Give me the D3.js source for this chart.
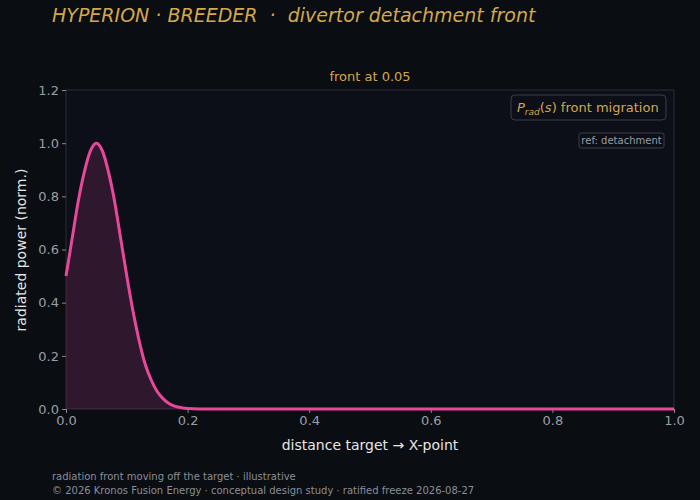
<!DOCTYPE html><html><head><meta charset="utf-8">
<script src="https://cdn.jsdelivr.net/npm/d3@7"></script>
<style>body{margin:0;background:#0a0d12;font-family:"DejaVu Sans",sans-serif}text{white-space:pre}</style></head><body>
<svg id="c" width="700" height="500"></svg>
<script>
const xs=[0,.01,.02,.03,.04,.05,.06,.07,.08,.09,.10,.11,.12,.13,.14,.15,.16,.17,.18,.19,.20,.22,.25,.5,1.0];
const ys=[.5,.64,.78,.89,.97,1.0,.97,.89,.78,.64,.50,.37,.26,.17,.11,.066,.038,.020,.010,.005,.002,.0004,0,0,0];
const xTicks=[0,0.2,0.4,0.6,0.8,1.0], yTicks=[0,0.2,0.4,0.6,0.8,1.0,1.2];
const svg=d3.select("#c");
svg.append("rect").attr("width",700).attr("height",500).attr("fill","#0a0d12");
const L=66,R=674,T=90,B=409;
const x=d3.scaleLinear([0,1],[L,R]), y=d3.scaleLinear([0,1.2],[B,T]);
svg.append("rect").attr("x",L).attr("y",T).attr("width",R-L).attr("height",B-T).attr("fill","#0c0f17").attr("stroke","#2a2e38");
const data=xs.map((v,i)=>[v,ys[i]]);
svg.append("path").datum(data).attr("fill","#e0409a").attr("fill-opacity",0.17)
 .attr("d",d3.area().x(d=>x(d[0])).y0(B).y1(d=>y(d[1])).curve(d3.curveMonotoneX));
svg.append("path").datum(data).attr("fill","none").attr("stroke","#e8489a").attr("stroke-width",3)
 .attr("d",d3.line().x(d=>x(d[0])).y(d=>y(d[1])).curve(d3.curveMonotoneX));
const st=g=>{g.select(".domain").remove();g.selectAll("line").attr("stroke","#888");g.selectAll("text").attr("fill","#9a9ea6").attr("font-size",13).attr("font-family","DejaVu Sans");};
svg.append("g").attr("transform",`translate(0,${B})`).call(d3.axisBottom(x).tickValues(xTicks).tickFormat(d3.format(".1f")).tickSize(4)).call(st);
svg.append("g").attr("transform",`translate(${L},0)`).call(d3.axisLeft(y).tickValues(yTicks).tickFormat(d3.format(".1f")).tickSize(4)).call(st);
svg.append("text").attr("x",52).attr("y",22).attr("fill","#d4a84a").attr("font-size",19).attr("font-style","italic").text("HYPERION · BREEDER  ·  divertor detachment front");
svg.append("text").attr("x",370).attr("y",81).attr("text-anchor","middle").attr("fill","#d4a84a").attr("font-size",13).text("front at 0.05");
svg.append("text").attr("x",370).attr("y",450).attr("text-anchor","middle").attr("fill","#e6e6e6").attr("font-size",14).text("distance target → X-point");
svg.append("text").attr("transform","translate(26,250) rotate(-90)").attr("text-anchor","middle").attr("fill","#e6e6e6").attr("font-size",14).text("radiated power (norm.)");
svg.append("rect").attr("x",511).attr("y",95).attr("width",155).attr("height",25).attr("rx",4).attr("fill","#0c0f17").attr("stroke","#3a3e48");
const lt=svg.append("text").attr("x",517).attr("y",112).attr("fill","#d4a84a").attr("font-size",13);
lt.append("tspan").attr("font-style","italic").text("P");
lt.append("tspan").attr("font-style","italic").attr("font-size",9).attr("dy",3).text("rad");
lt.append("tspan").attr("dy",-3).text("(");
lt.append("tspan").attr("font-style","italic").text("s");
lt.append("tspan").text(") front migration");
svg.append("rect").attr("x",579).attr("y",133).attr("width",85).attr("height",15).attr("rx",2).attr("fill","#0c0f17").attr("stroke","#3a3e48");
svg.append("text").attr("x",621.5).attr("y",144).attr("text-anchor","middle").attr("fill","#9a9ea6").attr("font-size",10).text("ref: detachment");
svg.append("text").attr("x",52).attr("y",480).attr("fill","#8a8e96").attr("font-size",10).text("radiation front moving off the target · illustrative");
svg.append("text").attr("x",52).attr("y",494).attr("fill","#8a8e96").attr("font-size",10).text("© 2026 Kronos Fusion Energy · conceptual design study · ratified freeze 2026-08-27");
</script></body></html>
